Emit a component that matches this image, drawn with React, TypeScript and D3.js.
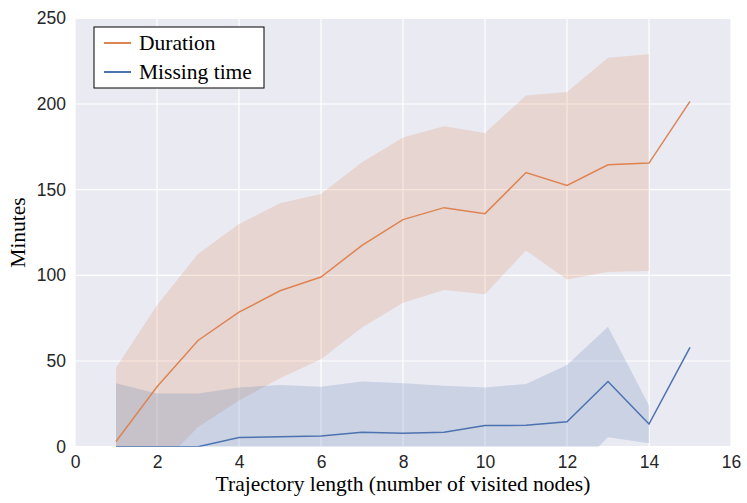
import * as d3 from 'd3';
import React, { useEffect, useRef } from 'react';

// trajectory length (number of visited nodes)
const lengths = [1, 2, 3, 4, 5, 6, 7, 8, 9, 10, 11, 12, 13, 14, 15];

// Duration: mean and band (mean +/- sd); last point has no band
const durationMean = [3, 35, 62, 78.5, 91, 99, 117.5, 132.5, 139.5, 136, 160, 152.5, 164.5, 165.5, 201.5];
const durationUpper = [46, 82.5, 112.5, 130, 142, 147.5, 166, 180.5, 187, 183, 205, 207, 227, 229];
const durationLower = [-40, -13, 11.5, 27, 40, 51, 69.5, 84, 91.5, 89, 114.5, 97.5, 102, 102.5];

// Missing time
const missingMean = [0, 0, 0, 5.3, 5.8, 6.2, 8.4, 7.8, 8.4, 12.3, 12.5, 14.6, 38, 13.2, 58];
const missingUpper = [37, 31, 31, 34.6, 36, 35, 38, 37, 35.6, 34.6, 36.6, 47.7, 70, 24];
const missingLower = [-37, -31, -31, -24, -24.4, -22.6, -21.2, -21.4, -18.8, -10, -11.6, -18.5, 5.5, 2];

const xTicks = [0, 2, 4, 6, 8, 10, 12, 14, 16];
const yTicks = [0, 50, 100, 150, 200, 250];

const series = [
  { name: 'Duration', color: '#dd8452', mean: durationMean, upper: durationUpper, lower: durationLower },
  { name: 'Missing time', color: '#4c72b0', mean: missingMean, upper: missingUpper, lower: missingLower },
];

const W = 747;
const H = 503;
const margin = { left: 75, top: 18.3, right: 16, bottom: 56.3 };

export default function App() {
  const ref = useRef<SVGSVGElement>(null);

  useEffect(() => {
    document.body.style.margin = '0';
    drawChart();
  }, []);

  function drawChart() {
    const w = W - margin.left - margin.right;
    const h = H - margin.top - margin.bottom;

    const root = d3.select(ref.current);
    root.selectAll('*').remove();

    const svg = root.append('g').attr('transform', `translate(${margin.left},${margin.top})`);

    const xScale = d3.scaleLinear().domain([0, 16]).range([0, w]);
    const yScale = d3.scaleLinear().domain([0, 250]).range([h, 0]);

    svg.append('rect').attr('width', w).attr('height', h).attr('fill', '#eaeaf2');

    root
      .append('defs')
      .append('clipPath')
      .attr('id', 'plot-clip')
      .append('rect')
      .attr('width', w)
      .attr('height', h);

    // grid
    svg
      .append('g')
      .selectAll('line')
      .data(xTicks)
      .join('line')
      .attr('x1', (d) => xScale(d))
      .attr('x2', (d) => xScale(d))
      .attr('y1', 0)
      .attr('y2', h)
      .attr('stroke', '#fff')
      .attr('stroke-width', 1.2);
    svg
      .append('g')
      .selectAll('line')
      .data(yTicks)
      .join('line')
      .attr('y1', (d) => yScale(d))
      .attr('y2', (d) => yScale(d))
      .attr('x1', 0)
      .attr('x2', w)
      .attr('stroke', '#fff')
      .attr('stroke-width', 1.2);

    const plot = svg.append('g').attr('clip-path', 'url(#plot-clip)');

    // bands
    series.forEach((s) => {
      const pts = s.upper.map((u, i) => ({ x: lengths[i], u, l: s.lower[i] }));
      const area = d3
        .area<any>()
        .x((d) => xScale(d.x))
        .y0((d) => yScale(d.l))
        .y1((d) => yScale(d.u));
      plot.append('path').datum(pts).attr('fill', s.color).attr('fill-opacity', 0.2).attr('d', area);
    });

    // mean lines
    series.forEach((s) => {
      const line = d3
        .line<number>()
        .x((d, i) => xScale(lengths[i]))
        .y((d) => yScale(d));
      plot
        .append('path')
        .datum(s.mean)
        .attr('fill', 'none')
        .attr('stroke', s.color)
        .attr('stroke-width', 1.5)
        .attr('d', line);
    });

    // axes (no tick marks, sans tick labels)
    const xAxis = svg
      .append('g')
      .attr('transform', `translate(0,${h})`)
      .call(d3.axisBottom(xScale).tickValues(xTicks).tickSize(0).tickPadding(9).tickFormat(d3.format('d')));
    const yAxis = svg
      .append('g')
      .call(d3.axisLeft(yScale).tickValues(yTicks).tickSize(0).tickPadding(9).tickFormat(d3.format('d')));
    [xAxis, yAxis].forEach((a) => {
      a.select('.domain').remove();
      a.selectAll('text')
        .attr('font-family', '"Liberation Sans", Arial, sans-serif')
        .attr('font-size', 17.5)
        .attr('fill', '#262626');
    });

    // axis titles
    root
      .append('text')
      .attr('x', margin.left + w / 2)
      .attr('y', 491)
      .attr('text-anchor', 'middle')
      .attr('font-family', '"Liberation Serif", "Times New Roman", serif')
      .attr('font-size', 21.5)
      .attr('fill', '#000')
      .text('Trajectory length (number of visited nodes)');
    root
      .append('text')
      .attr('transform', `translate(25,${margin.top + h / 2}) rotate(-90)`)
      .attr('text-anchor', 'middle')
      .attr('font-family', '"Liberation Serif", "Times New Roman", serif')
      .attr('font-size', 21.5)
      .attr('fill', '#000')
      .text('Minutes');

    // legend
    const lg = root.append('g').attr('transform', 'translate(94,27)');
    lg.append('rect')
      .attr('width', 170)
      .attr('height', 61)
      .attr('fill', '#fff')
      .attr('stroke', '#000')
      .attr('stroke-width', 1);
    series.forEach((s, i) => {
      const y = 16 + i * 29;
      lg.append('line')
        .attr('x1', 10)
        .attr('x2', 37)
        .attr('y1', y)
        .attr('y2', y)
        .attr('stroke', s.color)
        .attr('stroke-width', 2);
      lg.append('text')
        .attr('x', 45)
        .attr('y', y + 7)
        .attr('font-family', '"Liberation Serif", "Times New Roman", serif')
        .attr('font-size', 21.5)
        .attr('fill', '#000')
        .text(s.name);
    });
  }

  return <svg ref={ref} width={W} height={H} style={{ display: 'block' }} />;
}
